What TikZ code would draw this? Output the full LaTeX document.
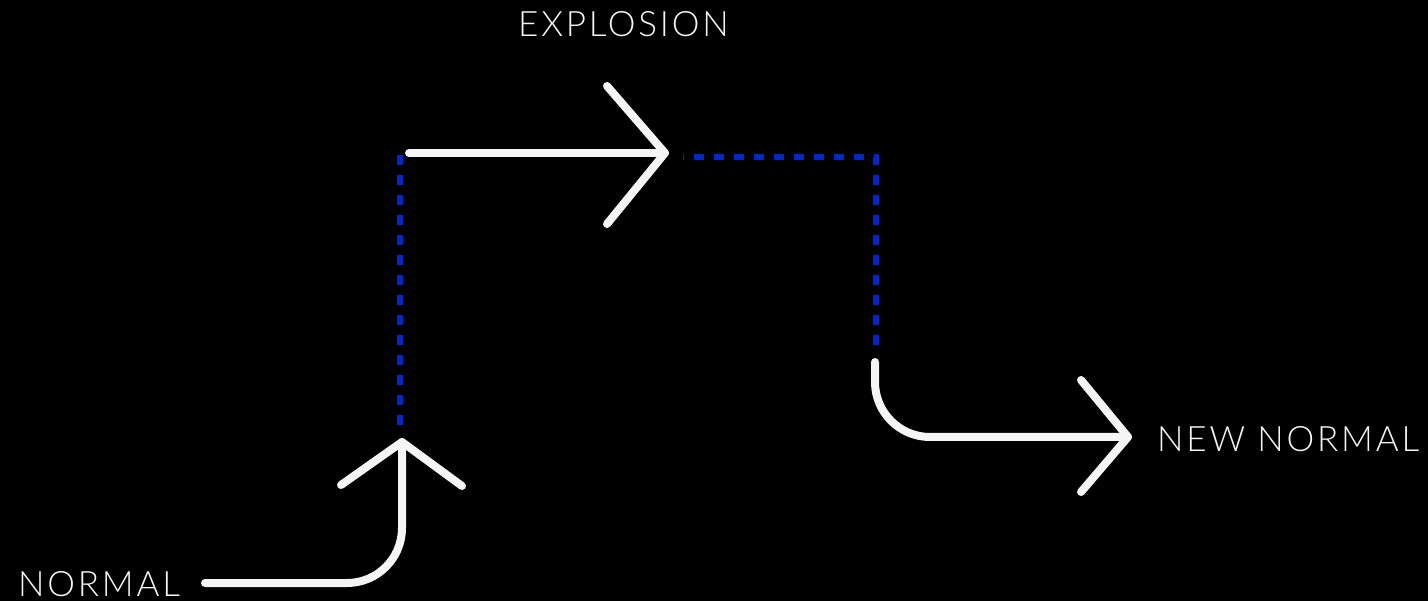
\documentclass[tikz,border=0pt]{standalone}
\usepackage{fontspec}
\IfFontExistsTF{Lato Light}{\setmainfont{Lato Light}[LetterSpace=8]}{\setmainfont{Lato}[LetterSpace=8]}
\definecolor{dashblue}{RGB}{0,40,200}
\definecolor{lineWhite}{RGB}{245,245,245}
\begin{document}
\begin{tikzpicture}[x=1pt,y=-1pt,
  wline/.style={draw=lineWhite,line width=8pt,line cap=round,line join=round},
  bline/.style={draw=dashblue,line width=6pt,dash pattern=on 10pt off 10pt},
  lbl/.style={text=lineWhite,inner sep=0pt,anchor=base west,font=\fontsize{35}{40}\selectfont}]
\fill[black] (0,0) rectangle (1428,601);
\useasboundingbox (0,0) rectangle (1428,601);
% labels
\node[lbl] (normal) at (18,596) {NORMAL};
\node[lbl] (explosion) at (518,37) {EXPLOSION};
\node[lbl] (newnormal) at (1157,452) {NEW NORMAL};
% coordinates
\coordinate (a0) at (205,583);
\coordinate (a1) at (402,442);
\coordinate (a1l) at (341,485);
\coordinate (a1r) at (462,486);
\coordinate (b0) at (400,154);
\coordinate (b1) at (400,425);
\coordinate (c0) at (409,153);
\coordinate (c1) at (665,153);
\coordinate (c1u) at (607,86);
\coordinate (c1d) at (607,224);
\coordinate (d0) at (683,157);
\coordinate (d1) at (876,157);
\coordinate (d2) at (876,345);
\coordinate (e0) at (875,362);
\coordinate (e1) at (1128,437);
\coordinate (e1u) at (1081,380);
\coordinate (e1d) at (1081,492);
% blue dashed links
\draw[bline] (b1) -- (b0);
\draw[bline,dash phase=9pt] (d0) -- (d1) -- (d2);
% white arrows
\draw[wline,rounded corners=55pt] (a0) -| (a1);
\draw[wline] (a1l) -- (a1) -- (a1r);
\draw[wline] (c0) -- (c1);
\draw[wline] (c1u) -- (c1) -- (c1d);
\draw[wline,rounded corners=55pt] (e0) |- (e1);
\draw[wline] (e1u) -- (e1) -- (e1d);
\end{tikzpicture}
\end{document}
